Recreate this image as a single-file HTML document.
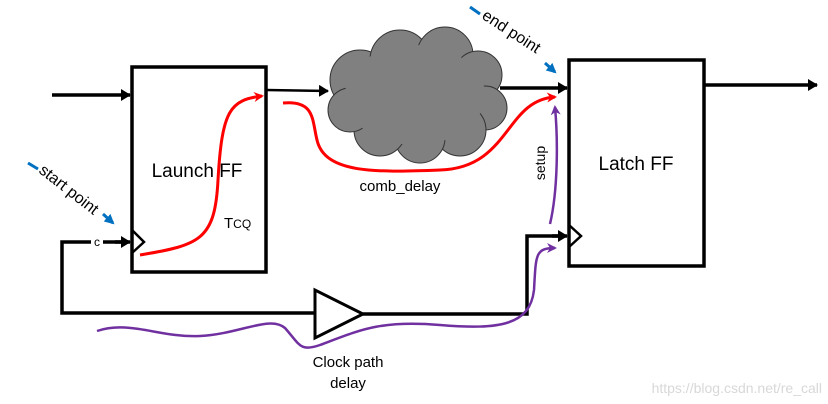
<!DOCTYPE html>
<html><head><meta charset="utf-8"><style>body{margin:0;background:#fff}svg{display:block}</style></head><body>
<svg width="828" height="404" viewBox="0 0 828 404" xmlns="http://www.w3.org/2000/svg" font-family="Liberation Sans, sans-serif">
<defs>
<marker id="ab" markerWidth="10" markerHeight="12" refX="9" refY="6" orient="auto" markerUnits="userSpaceOnUse"><path d="M0,0 L10,6 L0,12 Z" fill="#000"/></marker>
<marker id="ar" markerWidth="10" markerHeight="10" refX="8" refY="5" orient="auto" markerUnits="userSpaceOnUse"><path d="M0,0 L10,5 L0,10 L3,5 Z" fill="#f00"/></marker>
<marker id="ap" markerWidth="10" markerHeight="10" refX="8" refY="5" orient="auto" markerUnits="userSpaceOnUse"><path d="M0,0 L10,5 L0,10 L3,5 Z" fill="#7030a0"/></marker>
<marker id="abl" markerWidth="10" markerHeight="10" refX="8" refY="5" orient="auto" markerUnits="userSpaceOnUse"><path d="M0,0 L10,5 L0,10 Z" fill="#0070c0"/></marker>
</defs>
<rect x="132" y="67" width="134" height="205" fill="#fff" stroke="#000" stroke-width="3.5"/>
<rect x="569" y="60" width="135" height="206" fill="#fff" stroke="#000" stroke-width="3.5"/>
<polyline points="132,230 144,242 132,253" fill="none" stroke="#000" stroke-width="2.5"/>
<polyline points="569,225 581,236 569,247" fill="none" stroke="#000" stroke-width="2.5"/>
<g fill="#808080" stroke="#333" stroke-width="1">
<circle cx="360" cy="80" r="30"/><circle cx="400" cy="60" r="30"/><circle cx="445" cy="55" r="28"/><circle cx="478" cy="75" r="24"/>
<circle cx="485" cy="108" r="22"/><circle cx="460" cy="130" r="26"/><circle cx="420" cy="138" r="25"/><circle cx="380" cy="130" r="26"/><circle cx="350" cy="110" r="22"/>
<ellipse cx="415" cy="95" rx="70" ry="50" stroke="none"/>
</g>
<g stroke="#000" stroke-width="3.5" fill="none">
<line x1="52" y1="95" x2="130" y2="95" marker-end="url(#ab)"/>
<line x1="266" y1="90" x2="328" y2="91" stroke-width="2.5" marker-end="url(#ab)"/>
<line x1="500" y1="88" x2="567" y2="88" marker-end="url(#ab)"/>
<line x1="704" y1="85" x2="817" y2="85" marker-end="url(#ab)"/>
<polyline points="128,242 62,242 62,313 315,313"/>
<polyline points="363,314 527,314 527,236 565,236"/>
<line x1="115" y1="242" x2="130" y2="242" marker-end="url(#ab)"/>
<line x1="552" y1="236" x2="567" y2="236" marker-end="url(#ab)"/>
</g>
<polygon points="315,290 315,338 363,314" fill="#fff" stroke="#000" stroke-width="3"/>
<rect x="91" y="235" width="12" height="14" fill="#fff"/>
<text x="97" y="246" font-size="12" text-anchor="middle">c</text>
<g stroke="#f00" stroke-width="3" fill="none">
<path d="M140,255 C200,245 215,240 218,180 C222,110 230,100 262,96" marker-end="url(#ar)"/>
<path d="M283,103 C315,100 312,120 317,140 C325,175 380,172 440,170 C510,168 505,100 555,97" marker-end="url(#ar)"/>
</g>
<g stroke="#7030a0" stroke-width="2.5" fill="none">
<path d="M550,224 C558,190 558,140 555,107" marker-end="url(#ap)"/>
<path d="M97,331 C130,320 160,338 200,336 C240,334 270,315 285,328 C300,345 300,352 320,345 C360,330 380,320 440,325 C500,330 530,325 534,290 C536,255 535,248 555,248" marker-end="url(#ap)"/>
</g>
<line x1="28" y1="163" x2="38" y2="169" stroke="#0070c0" stroke-width="3"/>
<line x1="103" y1="214" x2="113" y2="223" stroke="#0070c0" stroke-width="3" marker-end="url(#abl)"/>
<line x1="470" y1="7" x2="480" y2="14" stroke="#0070c0" stroke-width="3"/>
<line x1="545" y1="63" x2="555" y2="72" stroke="#0070c0" stroke-width="3" marker-end="url(#abl)"/>
<text x="197" y="177" font-size="19" text-anchor="middle">Launch FF</text>
<text x="224" y="228" font-size="15">T<tspan font-size="12">CQ</tspan></text>
<text x="400" y="191" font-size="15" text-anchor="middle">comb_delay</text>
<text x="636" y="170" font-size="19" text-anchor="middle">Latch FF</text>
<text transform="translate(545,163) rotate(-90)" font-size="14" text-anchor="middle">setup</text>
<text x="348" y="367" font-size="15" text-anchor="middle">Clock path</text>
<text x="348" y="388" font-size="15" text-anchor="middle">delay</text>
<text transform="translate(38,172) rotate(38)" font-size="16">start point</text>
<text transform="translate(481,18) rotate(33)" font-size="16">end point</text>
<text x="822" y="393" font-size="14" fill="#d8d8d8" text-anchor="end">https://blog.csdn.net/re_call</text>
</svg>
</body></html>
